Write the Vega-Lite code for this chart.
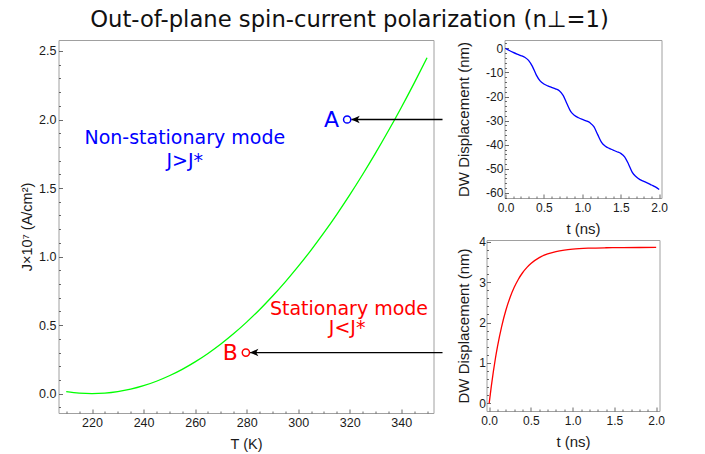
{
  "$schema": "https://vega.github.io/schema/vega-lite/v6.json",
  "padding": {"left": 18.5, "top": 8, "right": 5, "bottom": 2},
  "title": {"text": "Out-of-plane spin-current polarization (n⊥=1)", "font": "DejaVu Sans", "fontSize": 22.7, "fontWeight": "normal", "color": "#111111", "anchor": "middle", "offset": 8, "dx": 6},
  "datasets": {
    "curve": [
      {"T": 210, "J": 0.0145}, {"T": 215, "J": 0.0036}, {"T": 220, "J": 0.0}, {"T": 225, "J": 0.0036},
      {"T": 230, "J": 0.0145}, {"T": 235, "J": 0.0326}, {"T": 240, "J": 0.058}, {"T": 245, "J": 0.0906},
      {"T": 250, "J": 0.1305}, {"T": 255, "J": 0.1776}, {"T": 260, "J": 0.232}, {"T": 265, "J": 0.2936},
      {"T": 270, "J": 0.3625}, {"T": 275, "J": 0.4386}, {"T": 280, "J": 0.522}, {"T": 285, "J": 0.6126},
      {"T": 290, "J": 0.7105}, {"T": 295, "J": 0.8156}, {"T": 300, "J": 0.928}, {"T": 305, "J": 1.0476},
      {"T": 310, "J": 1.1745}, {"T": 315, "J": 1.3086}, {"T": 320, "J": 1.45}, {"T": 325, "J": 1.5986},
      {"T": 330, "J": 1.7545}, {"T": 335, "J": 1.9176}, {"T": 340, "J": 2.088}, {"T": 345, "J": 2.2656},
      {"T": 350, "J": 2.4505}
    ],
    "markers": [
      {"T": 319, "J": 2.0, "name": "A", "Ttip": 320.6, "Tend": 356},
      {"T": 279.7, "J": 0.3, "name": "B", "Ttip": 281.3, "Tend": 356}
    ],
    "notes": [
      {"T": 256, "J": 1.865, "text": "Non-stationary mode", "name": "A"},
      {"T": 256, "J": 1.70, "text": "J>J*", "name": "A"},
      {"T": 319.7, "J": 0.618, "text": "Stationary mode", "name": "B"},
      {"T": 319, "J": 0.48, "text": "J<J*", "name": "B"}
    ],
    "disp1": [
      {"t": 0.0, "d": 0}, {"t": 0.05, "d": -0.9}, {"t": 0.1, "d": -1.7}, {"t": 0.15, "d": -2.4},
      {"t": 0.2, "d": -3.0}, {"t": 0.25, "d": -3.7}, {"t": 0.3, "d": -5.0}, {"t": 0.35, "d": -7.5},
      {"t": 0.4, "d": -11.0}, {"t": 0.45, "d": -13.5}, {"t": 0.5, "d": -14.8}, {"t": 0.55, "d": -15.6},
      {"t": 0.6, "d": -16.2}, {"t": 0.65, "d": -16.8}, {"t": 0.7, "d": -17.6}, {"t": 0.75, "d": -19.5},
      {"t": 0.8, "d": -23.0}, {"t": 0.85, "d": -26.3}, {"t": 0.9, "d": -27.9}, {"t": 0.95, "d": -28.8},
      {"t": 1.0, "d": -29.5}, {"t": 1.05, "d": -30.1}, {"t": 1.1, "d": -30.9}, {"t": 1.15, "d": -32.5},
      {"t": 1.2, "d": -35.8}, {"t": 1.25, "d": -39.0}, {"t": 1.3, "d": -40.6}, {"t": 1.35, "d": -41.5},
      {"t": 1.4, "d": -42.2}, {"t": 1.45, "d": -42.9}, {"t": 1.5, "d": -43.6}, {"t": 1.55, "d": -45.0},
      {"t": 1.6, "d": -48.0}, {"t": 1.65, "d": -51.5}, {"t": 1.7, "d": -53.3}, {"t": 1.75, "d": -54.5},
      {"t": 1.8, "d": -55.2}, {"t": 1.85, "d": -55.9}, {"t": 1.9, "d": -56.7}, {"t": 1.95, "d": -57.5},
      {"t": 2.0, "d": -58.6}
    ],
    "disp2": [
      {"t": 0.0, "d": 0}, {"t": 0.025, "d": 0.415}, {"t": 0.05, "d": 0.785}, {"t": 0.075, "d": 1.116},
      {"t": 0.1, "d": 1.41}, {"t": 0.15, "d": 1.908}, {"t": 0.2, "d": 2.305}, {"t": 0.25, "d": 2.621},
      {"t": 0.3, "d": 2.873}, {"t": 0.35, "d": 3.074}, {"t": 0.4, "d": 3.234}, {"t": 0.45, "d": 3.361},
      {"t": 0.5, "d": 3.462}, {"t": 0.6, "d": 3.608}, {"t": 0.7, "d": 3.70}, {"t": 0.8, "d": 3.758},
      {"t": 0.9, "d": 3.795}, {"t": 1.0, "d": 3.819}, {"t": 1.2, "d": 3.843}, {"t": 1.4, "d": 3.853},
      {"t": 1.6, "d": 3.857}, {"t": 1.8, "d": 3.859}, {"t": 2.0, "d": 3.86}
    ],
    "none": []
  },
  "spacing": 10,
  "hconcat": [
    {
      "width": 375,
      "height": 373,
      "resolve": {"axis": {"x": "independent", "y": "independent"}},
      "layer": [
        {
          "data": {"name": "curve"},
          "mark": {"type": "line", "color": "#00ff00", "strokeWidth": 1.3, "interpolate": "monotone"},
          "encoding": {
            "x": {"field": "T", "type": "quantitative",
              "scale": {"domain": [207, 352.5], "nice": false, "zero": false},
              "axis": {"orient": "bottom", "title": "T (K)", "titleFontSize": 14.5, "labelFontSize": 12.5, "titlePadding": 9,
                "values": [220, 240, 260, 280, 300, 320, 340], "format": "d", "tickSize": -4, "labelPadding": 7}},
            "y": {"field": "J", "type": "quantitative",
              "scale": {"domain": [-0.141, 2.58], "nice": false, "zero": false},
              "axis": {"orient": "left", "title": "J×10⁷ (A/cm²)", "titleFontSize": 14.5, "labelFontSize": 12.5, "titlePadding": 4,
                "values": [0, 0.5, 1.0, 1.5, 2.0, 2.5], "format": ".1f", "tickSize": -4, "labelPadding": 6.6}}
          }
        },
        {
          "data": {"name": "markers"},
          "mark": {"type": "rule", "color": "#000000", "strokeWidth": 1.3, "clip": false},
          "encoding": {
            "x": {"field": "Ttip", "type": "quantitative",
              "axis": {"orient": "bottom", "title": null, "labels": false, "tickSize": -2,
                "values": [210,215,225,230,235,245,250,255,265,270,275,285,290,295,305,310,315,325,330,335,345,350]}},
            "x2": {"field": "Tend"},
            "y": {"field": "J", "type": "quantitative",
              "axis": {"orient": "left", "title": null, "labels": false, "tickSize": -2,
                "values": [-0.1,0.1,0.2,0.3,0.4,0.6,0.7,0.8,0.9,1.1,1.2,1.3,1.4,1.6,1.7,1.8,1.9,2.1,2.2,2.3,2.4]}}
          }
        },
        {
          "data": {"name": "markers"},
          "mark": {"type": "point", "shape": "M 0 0 L 4.2 -1.9 L 3.1 0 L 4.2 1.9 Z", "size": 16, "filled": true, "color": "#000000", "opacity": 1},
          "encoding": {
            "x": {"field": "Ttip", "type": "quantitative", "axis": null},
            "y": {"field": "J", "type": "quantitative", "axis": null}
          }
        },
        {
          "data": {"name": "markers"},
          "mark": {"type": "point", "shape": "circle", "size": 52, "filled": false, "strokeWidth": 1.5, "opacity": 1},
          "encoding": {
            "x": {"field": "T", "type": "quantitative", "axis": null},
            "y": {"field": "J", "type": "quantitative", "axis": null},
            "color": {"field": "name", "type": "nominal", "scale": {"domain": ["A", "B"], "range": ["#0000ff", "#ff0000"]}, "legend": null}
          }
        },
        {
          "data": {"name": "markers"},
          "mark": {"type": "text", "font": "DejaVu Sans", "fontSize": 22, "align": "right", "baseline": "middle", "dx": -8},
          "encoding": {
            "x": {"field": "T", "type": "quantitative", "axis": null},
            "y": {"field": "J", "type": "quantitative", "axis": null},
            "text": {"field": "name"},
            "color": {"field": "name", "type": "nominal", "legend": null}
          }
        },
        {
          "data": {"name": "notes"},
          "mark": {"type": "text", "font": "DejaVu Sans", "fontSize": 19, "align": "center", "baseline": "middle"},
          "encoding": {
            "x": {"field": "T", "type": "quantitative", "axis": null},
            "y": {"field": "J", "type": "quantitative", "axis": null},
            "text": {"field": "text"},
            "color": {"field": "name", "type": "nominal", "legend": null}
          }
        }
      ]
    },
    {
      "spacing": -2,
      "vconcat": [
        {
          "spacing": 0,
          "hconcat": [
            {"width": 1, "height": 1, "data": {"name": "none"}, "mark": "point", "view": {"stroke": null}},
            {
              "width": 157,
              "height": 158,
              "data": {"name": "disp1"},
              "resolve": {"axis": {"x": "independent", "y": "independent"}},
              "layer": [
                {
                  "mark": {"type": "line", "color": "#0000ff", "strokeWidth": 1.3, "interpolate": "monotone"},
                  "encoding": {
                    "x": {"field": "t", "type": "quantitative",
                      "scale": {"domain": [-0.013, 2.03], "nice": false, "zero": false},
                      "axis": {"orient": "bottom", "title": "t (ns)", "values": [0, 0.5, 1.0, 1.5, 2.0], "format": ".1f", "tickSize": -4, "labelPadding": 8, "titlePadding": 8}},
                    "y": {"field": "d", "type": "quantitative",
                      "scale": {"domain": [-62.1, 3.45], "nice": false, "zero": false},
                      "axis": {"orient": "left", "title": "DW Displacement (nm)", "values": [-60, -50, -40, -30, -20, -10, 0], "format": "d",
                        "labelExpr": "replace(datum.label, '\u2212', '-')", "tickSize": -4, "labelPadding": 5.7, "titlePadding": 14}}
                  }
                },
                {
                  "mark": {"type": "line", "opacity": 0},
                  "encoding": {
                    "x": {"field": "t", "type": "quantitative",
                      "axis": {"orient": "bottom", "title": null, "labels": false, "tickSize": -2,
                        "values": [0.1,0.2,0.3,0.4,0.6,0.7,0.8,0.9,1.1,1.2,1.3,1.4,1.6,1.7,1.8,1.9]}},
                    "y": {"field": "d", "type": "quantitative",
                      "axis": {"orient": "left", "title": null, "labels": false, "tickSize": -2,
                        "values": [-62,-58,-56,-54,-52,-48,-46,-44,-42,-38,-36,-34,-32,-28,-26,-24,-22,-18,-16,-14,-12,-8,-6,-4,-2,2]}}
                  }
                }
              ]
            }
          ]
        },
        {
          "spacing": 0,
          "hconcat": [
            {"width": 1, "height": 1, "data": {"name": "none"}, "mark": "point", "view": {"stroke": null}},
            {
              "width": 173,
              "height": 171,
              "data": {"name": "disp2"},
              "resolve": {"axis": {"x": "independent", "y": "independent"}},
              "layer": [
                {
                  "mark": {"type": "line", "color": "#ff0000", "strokeWidth": 1.3, "interpolate": "monotone"},
                  "encoding": {
                    "x": {"field": "t", "type": "quantitative",
                      "scale": {"domain": [-0.032, 2.04], "nice": false, "zero": false},
                      "axis": {"orient": "bottom", "title": "t (ns)", "values": [0, 0.5, 1.0, 1.5, 2.0], "format": ".1f", "tickSize": -4, "labelPadding": 8, "titlePadding": 8}},
                    "y": {"field": "d", "type": "quantitative",
                      "scale": {"domain": [-0.19, 4.045], "nice": false, "zero": false},
                      "axis": {"orient": "left", "title": "DW Displacement (nm)", "values": [0, 1, 2, 3, 4], "format": "d", "tickSize": -4, "labelPadding": 5, "titlePadding": 7}}
                  }
                },
                {
                  "mark": {"type": "line", "opacity": 0},
                  "encoding": {
                    "x": {"field": "t", "type": "quantitative",
                      "axis": {"orient": "bottom", "title": null, "labels": false, "tickSize": -2,
                        "values": [0.1,0.2,0.3,0.4,0.6,0.7,0.8,0.9,1.1,1.2,1.3,1.4,1.6,1.7,1.8,1.9]}},
                    "y": {"field": "d", "type": "quantitative",
                      "axis": {"orient": "left", "title": null, "labels": false, "tickSize": -2,
                        "values": [0.2,0.4,0.6,0.8,1.2,1.4,1.6,1.8,2.2,2.4,2.6,2.8,3.2,3.4,3.6,3.8]}}
                  }
                }
              ]
            }
          ]
        }
      ]
    }
  ],
  "config": {
    "view": {"stroke": "#a0a0a0", "strokeWidth": 1},
    "axis": {"domain": false, "grid": false, "tickColor": "#444444", "tickWidth": 0.8,
      "labelFont": "Liberation Sans", "labelFontSize": 12, "labelColor": "#1a1a1a",
      "titleFont": "Liberation Sans", "titleFontSize": 15, "titleFontWeight": "normal", "titleColor": "#1a1a1a",
      "labelOverlap": false, "labelFlush": false}
  }
}
